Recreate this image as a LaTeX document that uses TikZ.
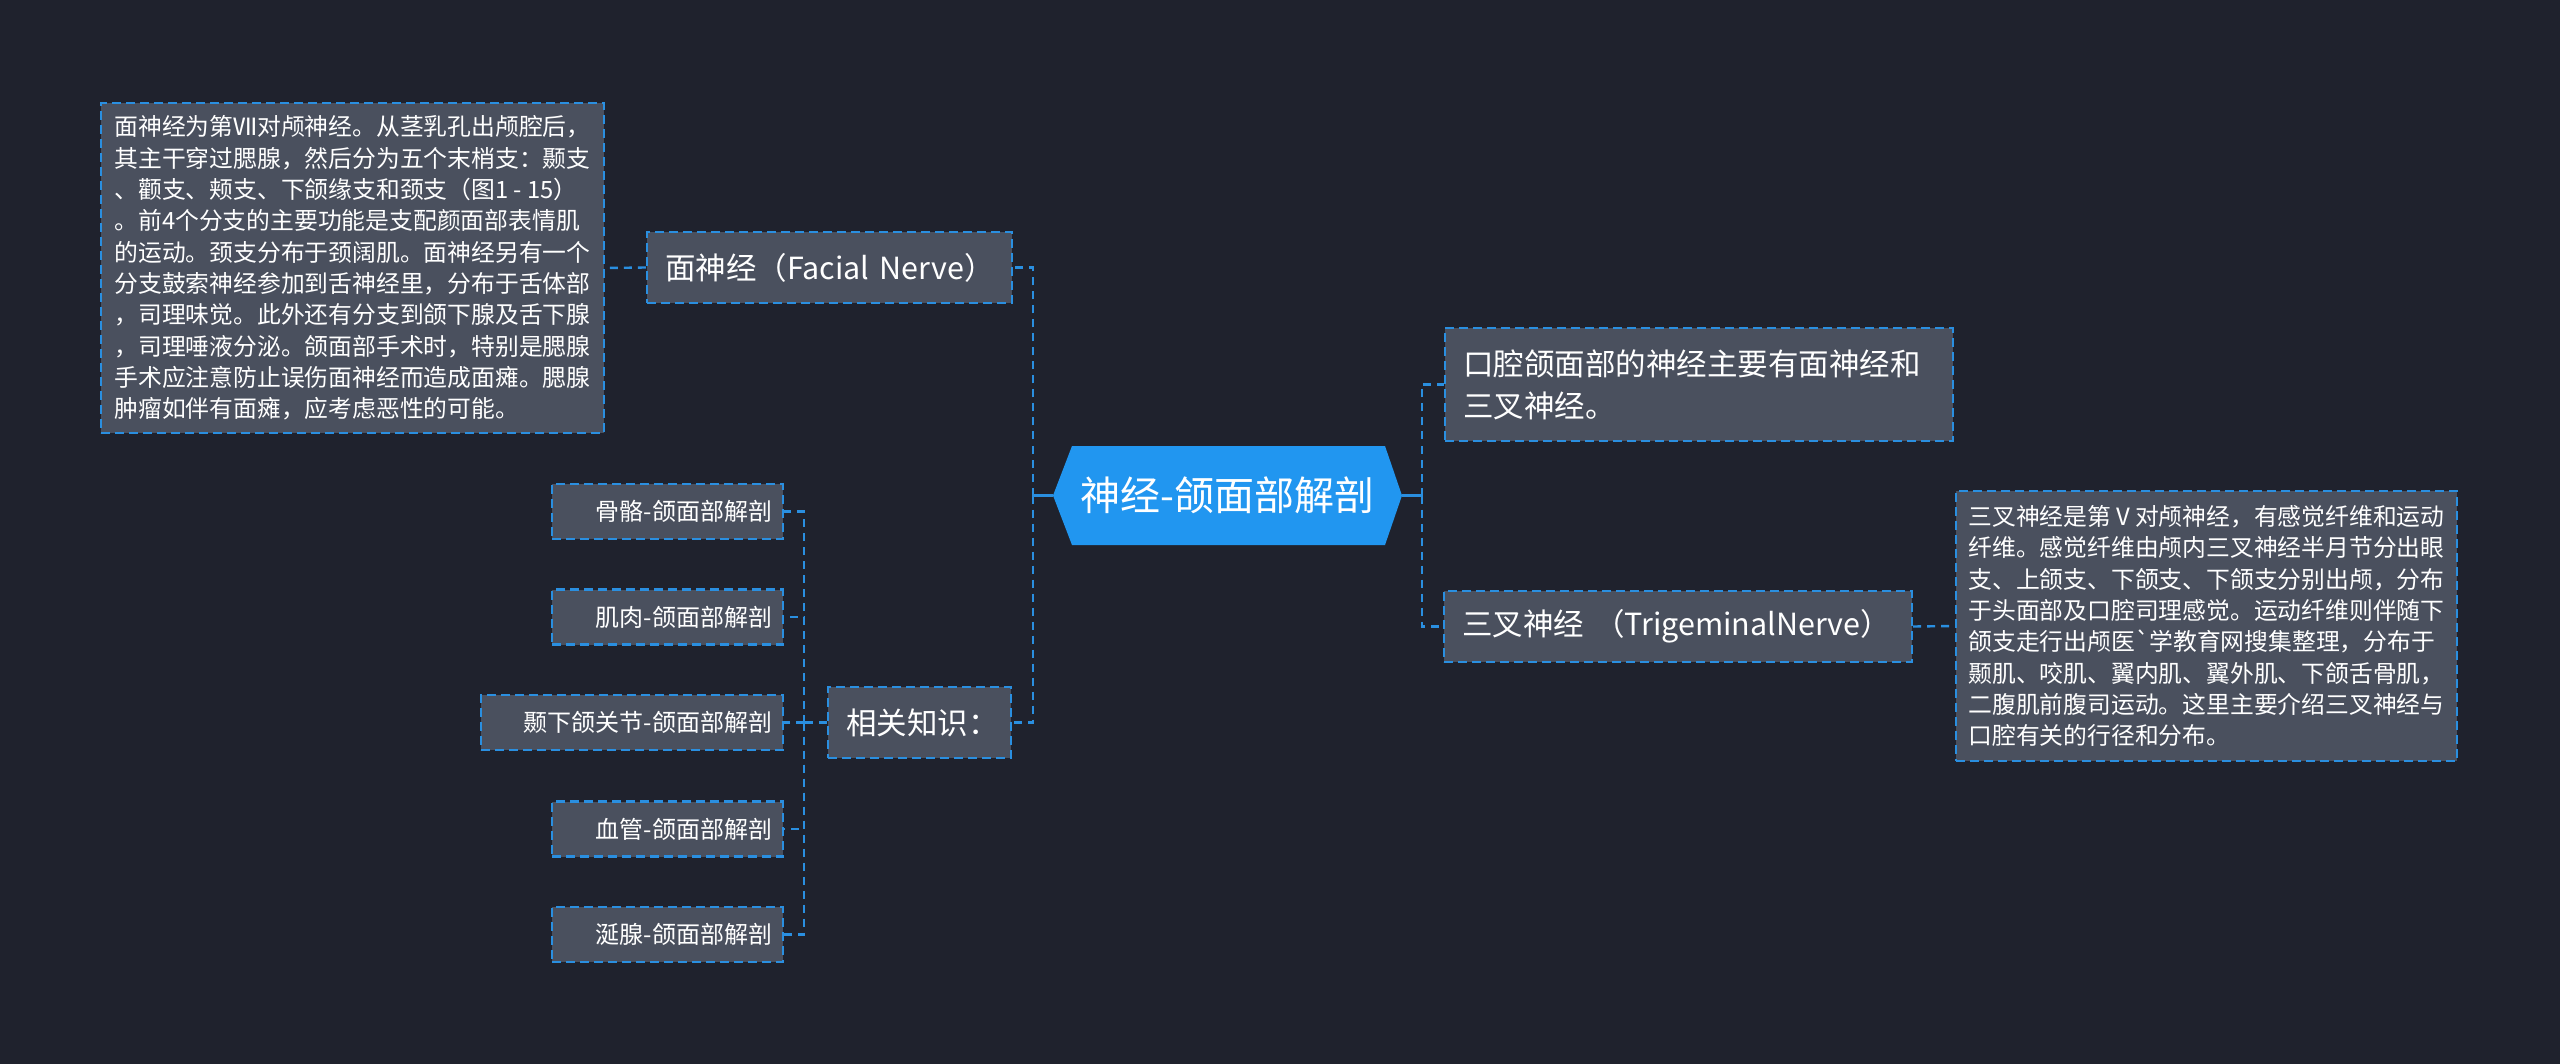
\documentclass[tikz,border=0pt]{standalone}
\usepackage{fontspec}
\setmainfont{Noto Sans CJK SC}
\usetikzlibrary{calc}
\definecolor{bg}{HTML}{1F222D}
\definecolor{nodefill}{HTML}{4A505E}
\definecolor{lineblue}{HTML}{2A8FE0}
\definecolor{centerfill}{HTML}{2196F0}
\newcommand{\smalltxt}{\fontsize{23.8}{31.3}\selectfont}
\newcommand{\midtxt}{\fontsize{30.5}{42}\selectfont}
\newcommand{\leaftxt}{\fontsize{24}{30}\selectfont}
\newcommand{\bigtxt}{\fontsize{40}{48}\selectfont}
\begin{document}
\begin{tikzpicture}[x=1pt,y=-1pt,
  box/.style={rectangle, draw=lineblue, line width=2.4pt, dash pattern=on 9pt off 5pt, fill=nodefill, text=white, inner sep=0pt},
  conn/.style={draw=lineblue, line width=2.4pt, dash pattern=on 8pt off 6pt},
  solidconn/.style={draw=lineblue, line width=2.4pt},
  paratext/.style={box, align=left, font=\smalltxt},
  midnode/.style={box, align=left, font=\midtxt, inner xsep=18pt, minimum height=71pt},
  leaf/.style={box, align=right, font=\leaftxt, inner xsep=11pt, minimum height=55pt}]
\fill[bg] (0,0) rectangle (2560,1064);
\useasboundingbox (0,0) rectangle (2560,1064);

% center hexagon
\node[rectangle, fill=bg, minimum width=349pt, minimum height=99pt, inner sep=0pt, text=white, font=\bigtxt,
  path picture={\fill[centerfill] (path picture bounding box.west) -- ([xshift=19pt]path picture bounding box.north west) -- ([xshift=-17pt]path picture bounding box.north east) -- (path picture bounding box.east) -- ([xshift=-17pt]path picture bounding box.south east) -- ([xshift=19pt]path picture bounding box.south west) -- cycle;}]
  (c) at (1227.5,495.5) {神经-颌面部解剖};

% left branch
\node[midnode, text width=329pt] (fn) at (829.5,267.5) {\mbox{面神经（Facial Nerve）}};
\node[paratext, minimum width=503pt, minimum height=330pt] (ft) at (352.5,268) {%
面神经为第Ⅶ对颅神经。从茎乳孔出颅腔后，\\%
其主干穿过腮腺，然后分为五个末梢支：颞支\\%
、颧支、颊支、下颌缘支和颈支（图1 - 15）\\%
。前4个分支的主要功能是支配颜面部表情肌\\%
的运动。颈支分布于颈阔肌。面神经另有一个\\%
分支鼓索神经参加到舌神经里，分布于舌体部\\%
，司理味觉。此外还有分支到颌下腺及舌下腺\\%
，司理唾液分泌。颌面部手术时，特别是腮腺\\%
手术应注意防止误伤面神经而造成面瘫。腮腺\\%
肿瘤如伴有面瘫，应考虑恶性的可能。};

\node[midnode, text width=147pt] (rel) at (919.5,722.5) {相关知识：};
\node[leaf, text width=209pt] (k1) at (667.5,511.5) {骨骼-颌面部解剖};
\node[leaf, text width=209pt] (k2) at (667.5,617) {肌肉-颌面部解剖};
\node[leaf, text width=280pt] (k3) at (632,722.5) {颞下颌关节-颌面部解剖};
\node[leaf, text width=209pt] (k4) at (667.5,829) {血管-颌面部解剖};
\node[leaf, text width=209pt] (k5) at (667.5,934.5) {涎腺-颌面部解剖};

% right branch
\node[midnode, text width=472pt, minimum height=113pt] (rt) at (1699,384.5) {口腔颌面部的神经主要有面神经和\\三叉神经。};
\node[midnode, text width=432pt] (tn) at (1678,626.5) {\mbox{三叉神经 （TrigeminalNerve）}};
\node[paratext, minimum width=501pt, minimum height=270pt] (tt) at (2206.5,626) {%
三叉神经是第Ⅴ对颅神经，有感觉纤维和运动\\%
纤维。感觉纤维由颅内三叉神经半月节分出眼\\%
支、上颌支、下颌支、下颌支分别出颅，分布\\%
于头面部及口腔司理感觉。运动纤维则伴随下\\%
颌支走行出颅医\textasciigrave 学教育网搜集整理，分布于\\%
颞肌、咬肌、翼内肌、翼外肌、下颌舌骨肌，\\%
二腹肌前腹司运动。这里主要介绍三叉神经与\\%
口腔有关的行径和分布。};

% junctions
\coordinate (lj) at (1033,495.5);
\coordinate (rj) at (1422,495.5);
\coordinate (kj) at (804,722.5);

% connectors
\draw[solidconn] (c.west) -- (lj);
\draw[conn] (lj) |- (fn.east);
\draw[conn] (lj) |- (rel.east);
\draw[solidconn] (c.east) -- (rj);
\draw[conn] (rj) |- (rt.west);
\draw[conn] (rj) |- (tn.west);
\draw[conn] (fn.west) -- (ft.east);
\draw[conn] (tn.east) -- (tt.west);
\draw[conn] (rel.west) -- (kj);
\draw[conn] (kj) |- (k1.east);
\draw[conn] (kj) |- (k2.east);
\draw[conn] (kj) -- (k3.east);
\draw[conn] (kj) |- (k4.east);
\draw[conn] (kj) |- (k5.east);
\end{tikzpicture}
\end{document}
